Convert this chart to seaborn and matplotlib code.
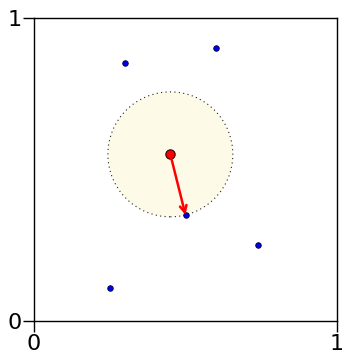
import numpy as np
import pandas as pd
import seaborn as sns
import matplotlib
matplotlib.use("Agg")
import matplotlib.pyplot as plt
from matplotlib.patches import Circle

# sample points and query point
px = [0.30, 0.60, 0.50, 0.74, 0.25]
py = [0.85, 0.90, 0.35, 0.25, 0.11]
qx, qy = 0.45, 0.55
ticks = [0, 1]
tick_labels = ["0", "1"]

sns.set_style("white")
plt.rcParams["font.family"] = ["DejaVu Sans"]

fig = plt.figure(figsize=(3.42, 3.54), dpi=100)
ax = fig.add_axes([34 / 342, 33 / 354, 303 / 342, 303 / 354])

pts = pd.DataFrame({"x": px, "y": py})
d = np.hypot(pts["x"] - qx, pts["y"] - qy)
nn = int(np.argmin(d))
r = float(d[nn])

# nearest-neighbour disc around the query
ax.add_patch(Circle((qx, qy), r, facecolor="#fefae8", edgecolor="#222222",
                    linestyle=(0, (1, 3)), linewidth=0.8, zorder=1))

sns.scatterplot(data=pts, x="x", y="y", ax=ax, color="#0000f0", s=16,
                edgecolor="#000033", linewidth=0.6, zorder=3)
sns.scatterplot(x=[qx], y=[qy], ax=ax, color="red", s=45,
                edgecolor="#330000", linewidth=0.8, zorder=4)

ax.annotate("", xy=(px[nn], py[nn]), xytext=(qx, qy),
            arrowprops=dict(arrowstyle="->", color="red", lw=1.8,
                            shrinkA=0, shrinkB=0, mutation_scale=12),
            zorder=5)

ax.set_xlim(0, 1)
ax.set_ylim(0, 1)
ax.set_xticks(ticks)
ax.set_xticklabels(tick_labels)
ax.set_yticks(ticks)
ax.set_yticklabels(tick_labels)
ax.tick_params(direction="out", length=8, width=1, labelsize=16, pad=1,
               bottom=True, left=True, colors="black")
ax.set_xlabel("")
ax.set_ylabel("")
for s in ax.spines.values():
    s.set_color("black")
    s.set_linewidth(1)

fig.savefig("out.png", dpi=100)
